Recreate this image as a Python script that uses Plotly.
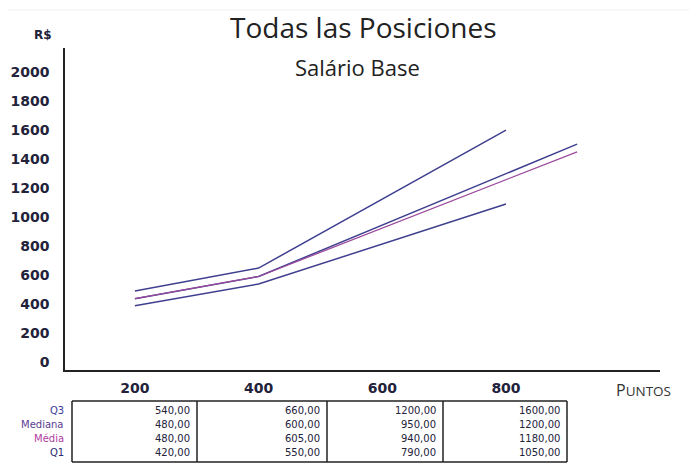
import plotly.graph_objects as go

# ---- data ----
points = [200, 400, 600, 800]
row_labels = ["Q3", "Mediana", "Média", "Q1"]
table_q3 = [540, 660, 1200, 1600]
table_mediana = [480, 600, 950, 1200]
table_media = [480, 605, 940, 1180]
table_q1 = [420, 550, 790, 1050]

# line series as drawn in the picture
line_x_short = [200, 400, 800]
line_x_long = [200, 400, 915]
line_q3 = [490, 648, 1600]
line_mediana = [437, 590, 1503]
line_media = [437, 590, 1450]
line_q1 = [388, 538, 1090]

yticks = list(range(0, 2001, 200))

W, H = 697, 463
OFF = 8  # page body margin
def px(x):
    return (x - OFF) / W
def py(y):
    return 1 - (y - OFF) / H

BLUE = "#3f3f8f"
PURPLE = "#9c4a9c"

fig = go.Figure()
fig.add_trace(go.Scatter(x=line_x_short, y=line_q3, mode="lines",
                         line=dict(color=BLUE, width=1.5), name="Q3"))
fig.add_trace(go.Scatter(x=line_x_long, y=line_mediana, mode="lines",
                         line=dict(color=BLUE, width=1.5), name="Mediana"))
fig.add_trace(go.Scatter(x=line_x_long, y=line_media, mode="lines",
                         line=dict(color=PURPLE, width=1.3), name="Média"))
fig.add_trace(go.Scatter(x=line_x_short, y=line_q1, mode="lines",
                         line=dict(color=BLUE, width=1.5), name="Q1"))

tick_font = dict(family="DejaVu Sans", size=14, color="#22223a", weight=700)

fig.update_layout(
    width=W, height=H, autosize=False,
    margin=dict(l=0, r=0, t=0, b=0),
    paper_bgcolor="white", plot_bgcolor="white",
    showlegend=False,
    xaxis=dict(domain=[px(65), px(660)], range=[87, 1049],
               tickvals=points, ticktext=[str(p) for p in points],
               showgrid=False, zeroline=False, showline=True,
               linecolor="#222222", linewidth=1.5, ticks="",
               tickfont=tick_font, ticklabelstandoff=4),
    yaxis=dict(domain=[py(370), py(48)], range=[-55, 2166],
               tickvals=yticks, ticktext=[str(v) for v in yticks],
               showgrid=False, zeroline=False, showline=True,
               linecolor="#222222", linewidth=1.5, ticks="",
               tickfont=tick_font, ticklabelstandoff=11),
)

annotations = []
annotations.append(dict(x=px(363), y=py(27), xref="paper", yref="paper",
                        text="Todas las Posiciones", showarrow=False,
                        font=dict(family="Open Sans", size=28, color="#222222"),
                        xanchor="center", yanchor="middle"))
annotations.append(dict(x=px(357), y=py(67), xref="paper", yref="paper",
                        text="Salário Base", showarrow=False,
                        font=dict(family="Open Sans", size=22, color="#222222"),
                        xanchor="center", yanchor="middle"))
annotations.append(dict(x=px(54), y=py(35), xref="paper", yref="paper",
                        text="R$", showarrow=False,
                        font=dict(family="DejaVu Sans", size=12, color="#22223a", weight=700),
                        xanchor="right", yanchor="middle"))
annotations.append(dict(x=px(614), y=py(390), xref="paper", yref="paper",
                        text="P<span style='font-size:13.5px'>UNTOS</span>", showarrow=False,
                        font=dict(family="Open Sans", size=16, color="#333333"),
                        xanchor="left", yanchor="middle"))

# table
col_edges = [72, 197, 327, 443, 567]
row_y = [410, 424, 438, 452]
label_colors = ["#3a3aa0", "#5a3c90", "#b0409f", "#2a2a70"]
rows = [table_q3, table_mediana, table_media, table_q1]
for i, lab in enumerate(row_labels):
    annotations.append(dict(x=px(66), y=py(row_y[i]), xref="paper", yref="paper",
                            text=lab, showarrow=False,
                            font=dict(family="DejaVu Sans", size=10, color=label_colors[i]),
                            xanchor="right", yanchor="middle"))
    for j, v in enumerate(rows[i]):
        annotations.append(dict(x=px(col_edges[j + 1] - 5), y=py(row_y[i]),
                                xref="paper", yref="paper",
                                text=f"{v:.2f}".replace(".", ","), showarrow=False,
                                font=dict(family="DejaVu Sans", size=10, color="#22223a"),
                                xanchor="right", yanchor="middle"))

shapes = []
shapes.append(dict(type="line", xref="paper", yref="paper",
                   x0=px(col_edges[0]), x1=px(col_edges[-1]), y0=py(401), y1=py(401),
                   line=dict(color="#222222", width=1.5)))
shapes.append(dict(type="line", xref="paper", yref="paper",
                   x0=px(col_edges[0]), x1=px(col_edges[-1]), y0=py(462), y1=py(462),
                   line=dict(color="#222222", width=1.5)))
for ce in col_edges:
    shapes.append(dict(type="line", xref="paper", yref="paper",
                       x0=px(ce), x1=px(ce), y0=py(401), y1=py(462),
                       line=dict(color="#222222", width=1.5)))
shapes.append(dict(type="line", xref="paper", yref="paper",
                   x0=px(693), x1=px(693), y0=py(470), y1=py(10),
                   line=dict(color="#b8b8b8", width=1)))
shapes.append(dict(type="line", xref="paper", yref="paper",
                   x0=px(8), x1=px(693), y0=py(10), y1=py(10),
                   line=dict(color="#eeeeee", width=1)))

fig.update_layout(annotations=annotations, shapes=shapes)

fig.write_html("out.html")
